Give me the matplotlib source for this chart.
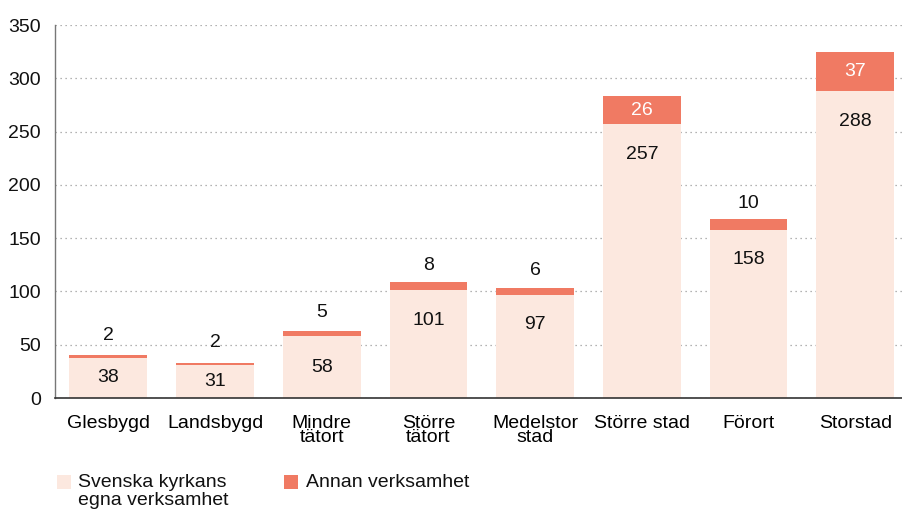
import matplotlib
matplotlib.use("Agg")
import matplotlib.pyplot as plt
from matplotlib.patches import Rectangle

plt.rcParams['font.family'] = ['Liberation Sans', 'DejaVu Sans']

categories = ["Glesbygd", "Landsbygd", "Mindre\ntätort", "Större\ntätort",
              "Medelstor\nstad", "Större stad", "Förort", "Storstad"]
egna = [38, 31, 58, 101, 97, 257, 158, 288]
annan = [2, 2, 5, 8, 6, 26, 10, 37]
yticks = [0, 50, 100, 150, 200, 250, 300, 350]
series_names = ["Svenska kyrkans\negna verksamhet", "Annan verksamhet"]

c_light = "#FCE8DF"
c_dark = "#F07A63"
FS = 14

W, H = 903, 511
fig = plt.figure(figsize=(W / 100, H / 100), dpi=100)
ax = fig.add_axes([55 / W, 113 / H, 853.6 / W, 373 / H])

x = list(range(len(categories)))
bw = 0.73
ax.bar(x, egna, width=bw, color=c_light, zorder=2)
ax.bar(x, annan, width=bw, bottom=egna, color=c_dark, zorder=2)

ax.set_xlim(-0.5, len(categories) - 0.5)
ax.set_ylim(0, 350)
ax.set_yticks(yticks)
ax.set_xticks(x)
ax.set_xticklabels(categories, fontsize=FS, linespacing=0.8)
ax.tick_params(axis='y', labelsize=FS, length=0, pad=10)
ax.tick_params(axis='x', length=0, pad=12)
for lbl in ax.get_yticklabels():
    lbl.set_color("#111111")

ax.grid(axis='y', linestyle=(0, (1, 3)), color="#9a9a9a", linewidth=0.9, zorder=0)
ax.set_axisbelow(True)
for s in ["top", "right"]:
    ax.spines[s].set_visible(False)
ax.spines["left"].set_color("#777777")
ax.spines["left"].set_linewidth(1.0)
ax.spines["bottom"].set_color("#333333")
ax.spines["bottom"].set_linewidth(1.2)

for i in x:
    e, a = egna[i], annan[i]
    # lower label
    if e > 60:
        ax.annotate(str(e), xy=(i, e), xytext=(0, -30), textcoords='offset pixels',
                    ha='center', va='center', fontsize=FS, color="#111111", zorder=3)
    else:
        ax.text(i, e / 2, str(e), ha='center', va='center', fontsize=FS,
                color="#111111", zorder=3)
    # upper label
    if a >= 20:
        ax.text(i, e + a / 2, str(a), ha='center', va='center', fontsize=FS,
                color="white", zorder=3)
    else:
        ax.annotate(str(a), xy=(i, e + a / 2), xytext=(0, 21), textcoords='offset pixels',
                    ha='center', va='center', fontsize=FS, color="#111111", zorder=3)

# legend
leg_y = H - 482
fig.add_artist(Rectangle((57 / W, (leg_y - 7) / H), 14 / W, 14 / H, transform=fig.transFigure,
                         facecolor=c_light, edgecolor='none'))
fig.text(78 / W, (leg_y + 8) / H, series_names[0], ha='left', va='top', fontsize=FS,
         linespacing=1.1, color="#111111")
fig.add_artist(Rectangle((284 / W, (leg_y - 7) / H), 14 / W, 14 / H, transform=fig.transFigure,
                         facecolor=c_dark, edgecolor='none'))
fig.text(306 / W, (leg_y + 8) / H, series_names[1], ha='left', va='top', fontsize=FS,
         color="#111111")

fig.savefig("out.png", dpi=100)
